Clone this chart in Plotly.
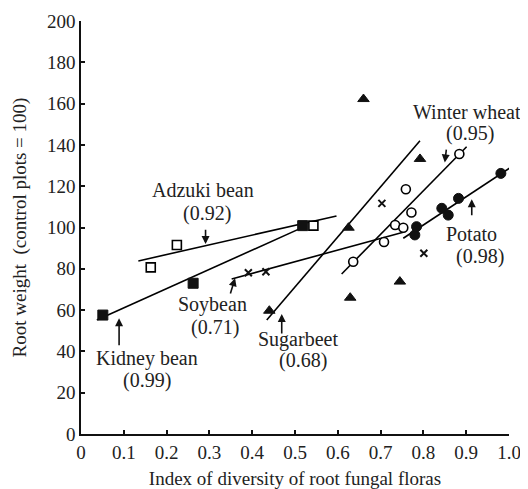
import plotly.graph_objects as go

# ---- data ----
adzuki_x = [0.163, 0.224, 0.543]
adzuki_y = [80.7, 91.5, 100.9]
adzuki_fit_x = [0.134, 0.597]
adzuki_fit_y = [83.8, 105.6]

kidney_x = [0.051, 0.262, 0.518]
kidney_y = [57.6, 73.0, 100.9]
kidney_fit_x = [0.037, 0.527]
kidney_fit_y = [55.2, 100.9]

soy_x = [0.391, 0.432, 0.703, 0.801]
soy_y = [78.1, 78.6, 111.7, 87.5]
soy_fit_x = [0.352, 0.755]
soy_fit_y = [75.1, 97.8]

beet_x = [0.44, 0.625, 0.629, 0.66, 0.745, 0.792]
beet_y = [59.7, 99.9, 66.0, 162.2, 73.8, 133.2]
beet_fit_x = [0.434, 0.792]
beet_fit_y = [55.2, 142.0]

wheat_x = [0.636, 0.708, 0.734, 0.753, 0.759, 0.772, 0.884]
wheat_y = [83.4, 93.0, 101.2, 99.9, 118.5, 107.3, 135.6]
wheat_fit_x = [0.609, 0.901]
wheat_fit_y = [77.5, 139.1]

potato_x = [0.780, 0.784, 0.843, 0.858, 0.882, 0.981]
potato_y = [96.4, 100.4, 109.3, 106.0, 114.1, 126.2]
potato_fit_x = [0.753, 1.006]
potato_fit_y = [94.8, 129.4]

x_tickvals = [0, 0.1, 0.2, 0.3, 0.4, 0.5, 0.6, 0.7, 0.8, 0.9, 1.0]
x_ticktext = ["0", "0.1", "0.2", "0.3", "0.4", "0.5", "0.6", "0.7", "0.8", "0.9", "1.0"]
y_tickvals = [0, 20, 40, 60, 80, 100, 120, 140, 160, 180, 200]

label_names = ["Adzuki bean", "Kidney bean", "Soybean", "Sugarbeet", "Winter wheat", "Potato"]
label_r = ["(0.92)", "(0.99)", "(0.71)", "(0.68)", "(0.95)", "(0.98)"]
name_pos_x = [0.286, 0.154, 0.308, 0.508, 0.901, 0.913]
name_pos_y = [118.2, 36.7, 62.5, 45.9, 156.0, 96.9]
r_pos_x = [0.294, 0.154, 0.313, 0.519, 0.909, 0.932]
r_pos_y = [106.9, 26.1, 51.7, 35.8, 145.6, 85.9]
arrow_tail_x = [0.291, 0.089, 0.348, 0.469, 0.854, 0.913]
arrow_tail_y = [99.6, 42.3, 67.3, 47.9, 138.4, 105.2]
arrow_head_x = [0.291, 0.089, 0.360, 0.469, 0.850, 0.913]
arrow_head_y = [92.0, 56.0, 75.4, 58.1, 131.5, 113.7]

FONT = "Liberation Serif, Times New Roman, serif"
LW = 1.6
fig = go.Figure()

def fit(xs, ys):
    fig.add_trace(go.Scatter(x=xs, y=ys, mode="lines", cliponaxis=False,
                             line=dict(color="black", width=LW), showlegend=False))

for fx, fy in [(adzuki_fit_x, adzuki_fit_y), (kidney_fit_x, kidney_fit_y),
               (soy_fit_x, soy_fit_y), (beet_fit_x, beet_fit_y),
               (wheat_fit_x, wheat_fit_y), (potato_fit_x, potato_fit_y)]:
    fit(fx, fy)

def pts(xs, ys, symbol, size, open_=False):
    if open_:
        m = dict(symbol=symbol, size=size, color="white",
                 line=dict(color="black", width=1.6))
    else:
        m = dict(symbol=symbol, size=size, color="#111",
                 line=dict(color="#111", width=1))
    fig.add_trace(go.Scatter(x=xs, y=ys, mode="markers", marker=m, showlegend=False))

pts(adzuki_x, adzuki_y, "square", 9, open_=True)
pts(kidney_x, kidney_y, "square", 10)
fig.add_trace(go.Scatter(x=soy_x, y=soy_y, mode="markers", showlegend=False,
                         marker=dict(symbol="x-thin", size=7,
                                     line=dict(color="#111", width=2))))
pts(beet_x, beet_y, "triangle-up", 10)
pts(wheat_x, wheat_y, "circle", 9, open_=True)
pts(potato_x, potato_y, "circle", 10)

anns = []
for i in range(len(label_names)):
    anns.append(dict(x=name_pos_x[i], y=name_pos_y[i], text=label_names[i],
                     showarrow=False, font=dict(family=FONT, size=20, color="#222")))
    anns.append(dict(x=r_pos_x[i], y=r_pos_y[i], text=label_r[i],
                     showarrow=False, font=dict(family=FONT, size=20, color="#222")))
    anns.append(dict(x=arrow_head_x[i], y=arrow_head_y[i], ax=arrow_tail_x[i],
                     ay=arrow_tail_y[i], axref="x", ayref="y", xref="x", yref="y",
                     text="", showarrow=True, arrowhead=2, arrowsize=1,
                     arrowwidth=1.6, arrowcolor="#111"))

# the page body adds an 8px offset; the figure is sized to fill the window
fig.update_layout(
    width=520, height=481,
    margin=dict(l=73, r=19, t=13, b=55),
    paper_bgcolor="white", plot_bgcolor="white",
    font=dict(family=FONT, size=19, color="#222"),
    annotations=anns,
    xaxis=dict(range=[0, 1.0], tickvals=x_tickvals, ticktext=x_ticktext,
               automargin=False,
               showgrid=False, zeroline=False, showline=True, linecolor="#111",
               linewidth=1.6, ticks="inside", ticklen=4, tickwidth=1.5,
               tickcolor="#111",
               title=dict(text="Index of diversity of root fungal floras",
                          font=dict(family=FONT, size=19), standoff=17)),
    yaxis=dict(range=[0, 200], tickvals=y_tickvals, automargin=False,
               showgrid=False, zeroline=False, showline=True, linecolor="#111",
               linewidth=1.6, ticks="inside", ticklen=4, tickwidth=1.5,
               tickcolor="#111",
               title=dict(text="Root weight  (control plots = 100)",
                          font=dict(family=FONT, size=19), standoff=15)),
)

fig.write_html("out.html")
